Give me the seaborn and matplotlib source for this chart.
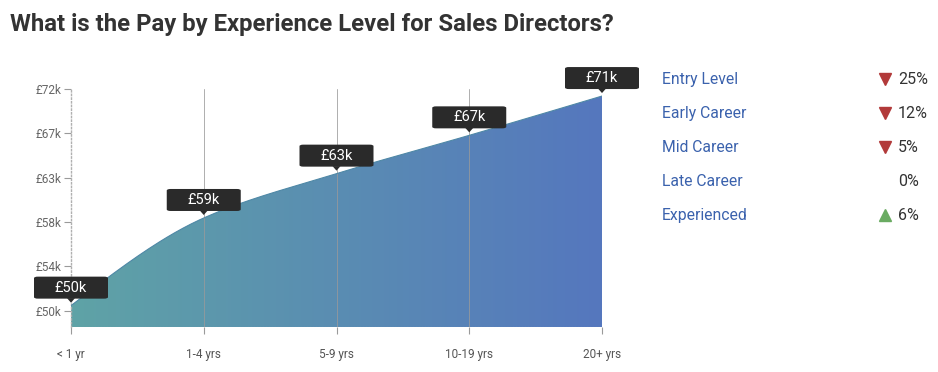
import numpy as np
import pandas as pd
import matplotlib
matplotlib.use("Agg")
import matplotlib.pyplot as plt
import seaborn as sns
from matplotlib.patches import FancyBboxPatch, Polygon
from matplotlib.lines import Line2D
from matplotlib.colors import LinearSegmentedColormap

# data
periods = ['< 1 yr', '1-4 yrs', '5-9 yrs', '10-19 yrs', '20+ yrs']
pay_k = [50.5, 59.2, 63.6, 67.4, 71.3]
pay_labels = ['£50k', '£59k', '£63k', '£67k', '£71k']
ytick_vals = [50.0, 54.4, 58.8, 63.2, 67.6, 72.0]
ytick_labels = ['£50k', '£54k', '£58k', '£63k', '£67k', '£72k']

levels = ['Entry Level', 'Early Career', 'Mid Career', 'Late Career', 'Experienced']
change_pct = [-25, -12, -5, 0, 6]

sns.set_theme(style='white')
plt.rcParams['font.family'] = ['Roboto', 'DejaVu Sans']

W, H = 938, 372
fig = plt.figure(figsize=(W / 100, H / 100), dpi=100)

# axes placed in pixel terms
L, R, T, B = 71, 602, 89, 327
ax = fig.add_axes([L / W, 1 - B / H, (R - L) / W, (B - T) / H])
y_bottom = 48.38
ax.set_xlim(0, 4)
ax.set_ylim(y_bottom, 72.0)


def monotone(xs, ys, n=200):
    # monotone cubic (d3 curveMonotoneX style) for drawing the smooth edge
    xs = np.asarray(xs, float)
    ys = np.asarray(ys, float)
    h = np.diff(xs)
    d = np.diff(ys) / h
    m = np.zeros_like(ys)
    for i in range(1, len(ys) - 1):
        if d[i - 1] * d[i] <= 0:
            m[i] = 0
        else:
            m[i] = (2 * d[i - 1] * d[i]) / (d[i - 1] + d[i])
    m[0] = (3 * d[0] - m[1]) / 2
    m[-1] = (3 * d[-1] - m[-2]) / 2
    xx = np.linspace(xs[0], xs[-1], n)
    yy = np.empty_like(xx)
    for j, x in enumerate(xx):
        i = min(np.searchsorted(xs, x, side='right') - 1, len(xs) - 2)
        t = (x - xs[i]) / h[i]
        h00 = 2 * t**3 - 3 * t**2 + 1
        h10 = t**3 - 2 * t**2 + t
        h01 = -2 * t**3 + 3 * t**2
        h11 = t**3 - t**2
        yy[j] = h00 * ys[i] + h10 * h[i] * m[i] + h01 * ys[i + 1] + h11 * h[i] * m[i + 1]
    return xx, yy


xpos = np.arange(len(periods))
cx, cy = monotone(xpos, pay_k)

# gradient fill clipped to the area
cmap = LinearSegmentedColormap.from_list('pay', ['#5fa3a6', '#5577be'])
grad = np.linspace(0, 1, 256).reshape(1, -1)
img = ax.imshow(grad, extent=[0, 4, y_bottom, 72.0], aspect='auto', cmap=cmap,
                origin='lower', zorder=1)
poly = Polygon(np.column_stack([np.r_[cx, 4, 0], np.r_[cy, y_bottom, y_bottom]]),
               closed=True, facecolor='none', edgecolor='none')
ax.add_patch(poly)
img.set_clip_path(poly)

curve = pd.DataFrame({'x': cx, 'y': cy})
sns.lineplot(data=curve, x='x', y='y', ax=ax, color='#4f88a6', linewidth=0.8, zorder=3)

# vertical grid lines
for i in xpos[1:]:
    ax.axvline(i, color='#9a9a9a', linewidth=0.7, alpha=0.8, zorder=2)
ax.axhline(y_bottom, color='#9ab', linewidth=0.8, linestyle=':', zorder=4)

for s in ['top', 'right', 'bottom']:
    ax.spines[s].set_visible(False)
ax.spines['left'].set_color('#b0b0b0')
ax.spines['left'].set_linestyle(':')
ax.spines['left'].set_linewidth(1.0)

ax.set_xticks(xpos)
ax.set_xticklabels(periods)
ax.set_yticks(ytick_vals)
ax.set_yticklabels(ytick_labels)
ax.tick_params(axis='x', length=5, width=0.8, color='#9a9a9a', direction='out',
               pad=10, labelsize=8.5, labelcolor='#555555', bottom=True)
ax.tick_params(axis='y', length=5, width=0.8, color='#9a9a9a', direction='out',
               pad=2, labelsize=8.5, labelcolor='#666666', left=True)
ax.set_xlabel('')
ax.set_ylabel('')

# value callouts
to_fig = fig.transFigure.inverted()
bw, bh = 74, 22
for xi, yi, lab in zip(xpos, pay_k, pay_labels):
    px, py = ax.transData.transform((xi, yi))
    bottom = py + 7
    x0, y0 = to_fig.transform((px - bw / 2, bottom))
    x1, y1 = to_fig.transform((px + bw / 2, bottom + bh))
    box = FancyBboxPatch((x0, y0), x1 - x0, y1 - y0,
                         boxstyle='round,pad=0,rounding_size=0.004',
                         transform=fig.transFigure, facecolor='#2a2a2a',
                         edgecolor='none', zorder=10)
    fig.add_artist(box)
    tri = [to_fig.transform(p) for p in [(px - 4, bottom + 0.5), (px + 4, bottom + 0.5), (px, bottom - 4)]]
    fig.add_artist(Polygon(tri, closed=True, transform=fig.transFigure,
                           facecolor='#2a2a2a', edgecolor='none', zorder=10))
    tx, ty = to_fig.transform((px, bottom + bh / 2))
    fig.text(tx, ty, lab, color='white', fontsize=10.5, ha='center', va='center',
             zorder=11)

# title
fig.text(10 / W, 1 - 25 / H, 'What is the Pay by Experience Level for Sales Directors?',
         fontsize=17.2, fontweight='bold', color='#333333', ha='left', va='center')

# right side table
for k, (name, pct) in enumerate(zip(levels, change_pct)):
    yc = 1 - (79.5 + 34 * k) / H
    fig.text(662 / W, yc, name, fontsize=11.3, color='#3b62ad', ha='left', va='center')
    fig.text(898 / W, yc, f'{abs(pct)}%', fontsize=11.5, color='#333333',
             ha='left', va='center')
    if pct < 0:
        fig.add_artist(Line2D([885 / W], [yc + 1 / H], marker='v', markersize=8,
                              color='#b23a3a', transform=fig.transFigure, linestyle='none'))
    elif pct > 0:
        fig.add_artist(Line2D([885 / W], [yc + 1 / H], marker='^', markersize=8,
                              color='#6aab62', transform=fig.transFigure, linestyle='none'))

fig.savefig('out.png', dpi=100)
